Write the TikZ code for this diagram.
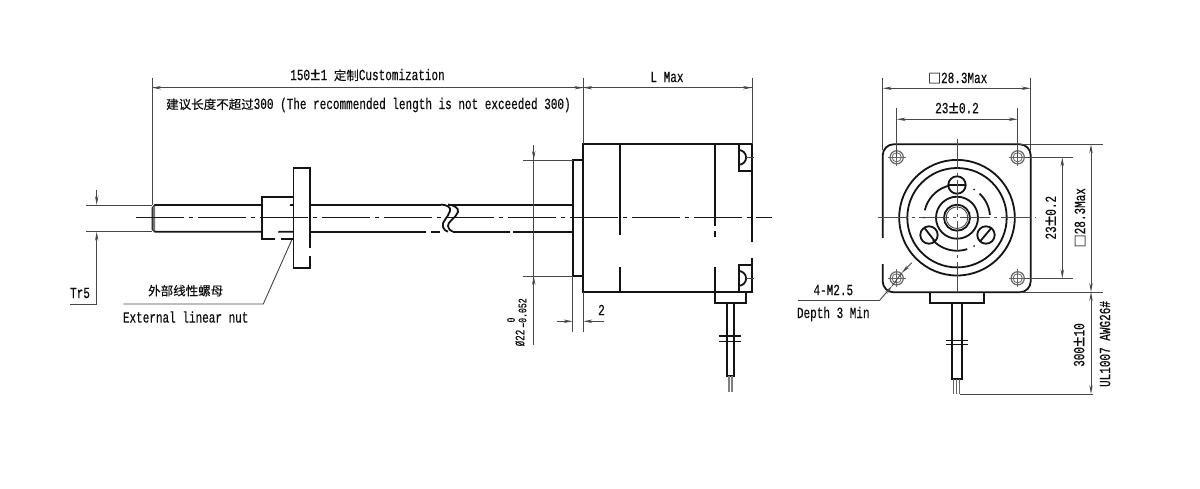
\documentclass[tikz,border=0pt]{standalone}
\usepackage{fontspec}
\usetikzlibrary{arrows.meta}
\newfontfamily\dimf[FakeStretch=0.71,FakeBold=0.35]{Liberation Mono}
\newfontfamily\cjk[FakeBold=0.25]{Noto Sans CJK SC}
\newcommand{\plm}{\scalebox{1.6}[1.15]{±}}
\newcommand{\sqbox}{{\cjk\fontsize{13}{13}\selectfont □}}
\tikzset{
  outl/.style={line width=1.8pt,draw=black!92},
  thinl/.style={line width=0.9pt,draw=black!72},
  cl/.style={line width=1.3pt,draw=black!90,dash pattern=on 48pt off 5pt on 4pt off 5pt},
  clr/.style={line width=0.9pt,draw=black!70,dash pattern=on 30pt off 4pt on 3pt off 4pt},
  tip/.style={-{Stealth[length=9pt,width=3.4pt]}},
  both/.style={{Stealth[length=9pt,width=3.4pt]}-{Stealth[length=9pt,width=3.4pt]}},
  lab/.style={inner sep=0pt,text=black!95,font=\fontsize{15.5}{15}\selectfont\dimf},
  labc/.style={inner sep=0pt,text=black!95,font=\fontsize{12.5}{14}\selectfont\cjk},
}
\newcommand{\arcp}[5]{plot[domain=#4:#5,samples=40,smooth] ({#1+#3*cos(\x)},{#2+#3*sin(\x)})}
\begin{document}
\begin{tikzpicture}[x=1pt,y=-1pt]
\useasboundingbox (0,0) rectangle (1200,488);
\fill[white] (0,0) rectangle (1200,488);

% ---- lead screw
\draw[outl] (441,205) -- (155,205) -- (152.5,208) -- (152.5,229) -- (155,231.7) -- (293,231.7);
\fill[black!55] (152.5,207) -- (155,205.5) -- (155,231) -- (152.5,229.5) -- cycle;
\draw[outl] (310,231.7) -- (426,231.7) (431,231.7) -- (440,231.7);
\draw[outl] (448,205) -- (572.7,205);
\draw[outl] (453,231.7) -- (510,231.7) (513,231.7) -- (572.7,231.7);
\draw[outl] (441,204.5) .. controls (447,205) and (451,207) .. (450,211) .. controls (448,218) and (441,222) .. (443,227) .. controls (444,230) and (446,231) .. (448,231.7);
\draw[outl] (448,204.5) .. controls (454,205) and (459,208) .. (458,212) .. controls (456,218) and (447,222) .. (448,226) .. controls (449,230) and (451,231) .. (453,231.7);
% ---- nut
\draw[fill=white,outl] (293.5,196.7) -- (262,196.7) -- (262,239) -- (275,239);
\draw[outl] (281,239) -- (293.5,239);
\draw[outl,fill=white] (293.5,167.7) rectangle (310,268);
\draw[draw=white,line width=2.6pt] (310,248) -- (310,256);

% ---- motor side view
\draw[outl] (572.7,160) rectangle (583.3,276);
\draw[outl] (583.3,144.3) rectangle (752,291.7);
\draw[draw=white,line width=2.6pt] (752,242) -- (752,258);
\draw[outl] (620.3,144.3) -- (620.3,235) (620.3,267) -- (620.3,291.7);
\draw[outl] (715,144.3) -- (715,226) (715,231) -- (715,237) (715,267) -- (715,302.7) -- (745.7,302.7) -- (745.7,291.7);
\draw[outl] (752,170.7) -- (738.7,170.7) -- (738.7,144.3);
\draw[outl] (752,265) -- (738.7,265) -- (738.7,291.7);
\draw[outl] (738.7,150) arc[start angle=-90,end angle=90,radius=7.4];
\draw[outl] (738.7,271) arc[start angle=-90,end angle=90,radius=7.4];
\draw[thinl] (746,157.3) -- (754,157.3) (746,278.3) -- (754,278.3);
\draw[outl] (727.3,302.7) -- (727.3,376) -- (734,376) -- (734,302.7);
\draw[outl,line width=1.4pt] (719.3,336) -- (741,336) (719.3,341.7) -- (741,341.7);
\draw[line width=0.5pt,draw=black!50] (727.8,376) -- (727.8,391.7) (729.3,376) -- (729.3,391.7) (730.8,376) -- (730.8,391.7) (732.3,376) -- (732.3,391.7);
% centre line
\draw[cl] (136,217.7) -- (771.7,217.7);

% ---- dimensions, side view
\draw[thinl] (152,77.7) -- (152,205) (583.3,77.7) -- (583.3,144.3) (752,77.7) -- (752,144.3);
\draw[thinl] (152,87.7) -- (752,87.7);
\draw[thinl,tip] (175,87.7) -- (152,87.7);
\draw[thinl,tip] (565,87.7) -- (583.3,87.7);
\draw[thinl,tip] (600,87.7) -- (583.3,87.7);
\draw[thinl,tip] (735,87.7) -- (752,87.7);
\node[lab] (lenlabel) at (367.5,75) {150\plm1 {\fontsize{12.5}{14}\selectfont\cjk 定制}Customization};
\node[lab,anchor=west] (reclabel) at (166,105) {{\fontsize{12.5}{14}\selectfont\cjk 建议长度不超过}300 (The recommended length is not exceeded 300)};
\node[lab] (lmax) at (667,77) {L Max};
% Tr5
\draw[thinl] (86,205) -- (152,205) (86,231.7) -- (152,231.7);
\draw[thinl,tip] (96.7,190) -- (96.7,205);
\draw[thinl,tip] (96.7,304) -- (96.7,231.7);
\draw[thinl] (96.7,304) -- (70,304);
\node[lab] (trfive) at (80,293) {Tr5};
% nut leader
\draw[thinl] (123.3,304) -- (263.3,304) -- (291.7,240);
\node[labc] (nutcn) at (185.7,290.7) {外部线性螺母};
\node[lab] (nuten) at (185.7,317) {External linear nut};
% dia 22
\draw[thinl] (523,160) -- (572.7,160) (523,276) -- (572.7,276);
\draw[thinl] (533.7,145) -- (533.7,345);
\draw[thinl,tip] (533.7,145) -- (533.7,160);
\draw[thinl,tip] (533.7,291) -- (533.7,276);
\node[lab,rotate=90,font=\fontsize{13}{12}\selectfont\dimf] (dia) at (520,338) {Ø22};
\node[lab,rotate=90,font=\fontsize{11.5}{10}\selectfont\dimf] (diatol) at (522.5,313) {–0.052};
\node[lab,rotate=90,font=\fontsize{11.5}{10}\selectfont\dimf] (diazero) at (511,320) {0};
% dim 2
\draw[thinl] (572.7,276) -- (572.7,331.7) (583.3,291.7) -- (583.3,331.7);
\draw[thinl,tip] (556.7,321.3) -- (572.7,321.3);
\draw[thinl,tip] (604,321.3) -- (583.3,321.3);
\node[lab] (two) at (601.5,310) {2};

% ---- front view
\draw[outl,rounded corners=11pt] (882.7,144.3) rectangle (1030.7,292.3);
\draw[draw=white,line width=2.6pt] (882.7,238) -- (882.7,264);
\draw[outl] (930.3,292.3) -- (930.3,302.7) -- (984,302.7) -- (984,292.3);
\draw[outl] (952,302.7) -- (952,379.3) -- (962.3,379.3) -- (962.3,302.7);
\draw[outl,line width=1.4pt] (945.7,340.7) -- (968.3,340.7) (945.7,344.3) -- (968.3,344.3);
\draw[line width=0.6pt,draw=black!60] (953.5,379.3) -- (953.5,394) (956.5,379.3) -- (956.5,394) (959.5,379.3) -- (959.5,394);
% circles
\draw[outl] (957,217.7) circle[radius=57.8];
\draw[outl] (957,217.7) circle[radius=49.7];
\draw[outl] (957,217.7) circle[radius=21];
\draw[outl] (957,217.7) circle[radius=13];
\draw[line width=0.8pt,draw=black!75] (957,217.7) circle[radius=10.8];
% pitch circle arcs
\draw[outl] \arcp{957}{217.7}{33}{193}{254};
\draw[outl] \arcp{957}{217.7}{33}{313}{355};
\draw[outl] \arcp{957}{217.7}{33}{72}{137};
\fill[black!85] (974,189.5) circle[radius=1] (974,246) circle[radius=1] (924,217.7) circle[radius=1];
% three holes
\draw[outl] (957,185) circle[radius=8.7];
\draw[outl] (948.3,185) -- (965.7,185);
\draw[outl] (929,235) circle[radius=8.7];
\draw[outl] (924.5,228) -- (935,241.5);
\draw[outl] (986,235) circle[radius=8.7];
\draw[outl] (980,241.5) -- (991.7,227.5);
% corner holes
\foreach \cx/\cy in {896.7/157.3,1017.7/157.3,896.7/278.3,1017.7/278.3}{
  \draw[line width=1.2pt,draw=black!60] (\cx,\cy) circle[radius=6.6];
  \draw[line width=0.8pt,draw=black!60] (\cx,\cy) circle[radius=4.6];
  \draw[line width=0.6pt,draw=black!60] (\cx-9,\cy) -- (\cx+9,\cy) (\cx,\cy-9) -- (\cx,\cy+9);
}
% centre lines
\draw[clr] (878,217.7) -- (1036,217.7);
\draw[clr] (957,139.3) -- (957,292);
% dims front
\draw[thinl] (882.7,77.7) -- (882.7,150) (1030.7,77.7) -- (1030.7,150);
\draw[thinl,both] (882.7,88.3) -- (1030.7,88.3);
\node[lab] (sqw) at (957.7,78) {\sqbox 28.3Max};
\draw[thinl] (896.7,108) -- (896.7,157) (1017.7,108) -- (1017.7,157);
\draw[thinl,both] (896.7,119.3) -- (1017.7,119.3);
\node[lab] (pw) at (957,108) {23\plm 0.2};
\draw[thinl] (1025,157.3) -- (1073,157.3) (1025,278.3) -- (1073,278.3);
\draw[thinl,both] (1062.3,157.3) -- (1062.3,278.3);
\node[lab,rotate=90] (ph) at (1050.7,217.7) {23\plm 0.2};
\draw[thinl] (1020,144.3) -- (1102.7,144.3) (1020,292) -- (1102.7,292);
\draw[thinl,both] (1091,144.3) -- (1091,292);
\draw[thinl,both] (1091,292) -- (1091,394);
\draw[thinl] (960,394) -- (1093,394);
\node[lab,rotate=90] (sqh) at (1080,217.7) {\sqbox 28.3Max};
\node[lab,rotate=90] (wlen) at (1079,345) {300\plm 10};
\node[lab,rotate=90] (awg) at (1105,344) {UL1007 AWG26\#};
% leader M2.5
\draw[thinl] (798.3,300.7) -- (879.3,300.7);
\draw[thinl,tip] (879.3,300.7) -- (892,286);
\draw[thinl,tip] (911.7,262.7) -- (901.7,273);
\draw[thinl] (892,286) -- (901.7,273);
\node[lab] (mtext) at (833.3,290) {4-M2.5};
\node[lab] (dtext) at (833.3,314) {Depth 3 Min};
\end{tikzpicture}
\end{document}
